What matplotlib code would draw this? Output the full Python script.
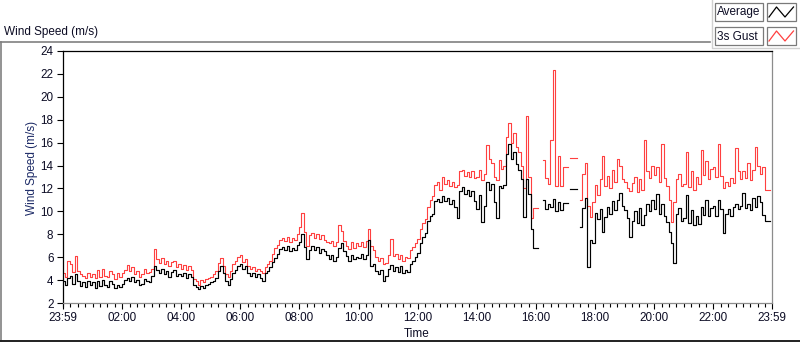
import numpy as np
import matplotlib
matplotlib.use("Agg")
import matplotlib.pyplot as plt
from matplotlib.lines import Line2D
from matplotlib.patches import Rectangle

nan = np.nan

# ---- data: 5-minute samples starting at 23:59 (hours since start) ----
sample_minutes = 5
avg_speed = [
    3.9, 3.6, 4.2, 4.4, 3.7, 4.5, 3.9, 3.5, 3.8, 3.4, 3.9, 3.6,
    3.8, 3.3, 3.9, 3.5, 4.0, 3.6, 3.4, 3.9, 3.7, 3.3, 3.6, 3.4,
    3.7, 4.0, 4.2, 3.9, 4.3, 3.8, 4.0, 3.6, 3.7, 4.1, 3.9, 3.8,
    4.4, 5.2, 4.9, 4.6, 5.0, 4.5, 4.8, 4.3, 4.7, 4.9, 4.4, 4.5,
    4.4, 4.6, 4.2, 4.5, 4.3, 3.6, 3.4, 3.2, 3.5, 3.3, 3.6, 3.7,
    3.8, 3.9, 4.2, 4.8, 5.2, 4.6, 3.9, 3.6, 4.1, 4.6, 4.9, 5.2,
    5.4, 5.0, 5.2, 4.6, 4.4, 4.6, 4.3, 4.5, 4.2, 3.9, 4.6, 4.8,
    5.1, 5.6, 5.9, 6.3, 6.7, 6.9, 6.6, 7.0, 6.5, 6.8, 6.6, 7.1,
    7.3, 8.0, 6.9, 5.8, 6.6, 7.0, 6.6, 6.9, 6.4, 6.7, 6.5, 6.2,
    5.8, 6.2, 5.7, 6.0, 6.8, 7.2, 6.5, 6.1, 5.7, 6.2, 5.8, 6.0,
    5.9, 6.3, 5.8, 6.2, 7.5, 5.2, 5.4, 4.8, 4.5, 4.9, 3.9, 4.4,
    5.0, 5.3, 4.8, 5.1, 4.7, 5.2, 4.6, 4.9, 4.7, 5.4, 5.7, 6.0,
    6.4, 7.2, 7.8, 8.1, 9.2, 9.6, 9.8, 10.9, 11.1, 10.8, 11.3, 10.9,
    11.2, 10.6, 11.0, 10.4, 9.4, 11.8, 12.1, 11.5, 11.9, 11.3, 11.8, 10.9,
    10.2, 11.4, 9.1, 10.5, 12.6, 11.9, 12.4, 10.8, 9.4, 12.2, 12.0, 12.3,
    15.0, 15.9, 14.6, 15.2, 14.1, 13.6, 12.8, 9.5, 12.8, 11.5, 8.5, 6.8,
    6.8, nan, nan, 11.0, 10.2, 10.6, 10.4, 11.1, 10.0, 10.8, 10.1, 10.7,
    10.7, nan, 11.95, 11.95, 11.95, nan, 8.6, 10.3, 11.2, 5.1, 7.5, 7.2,
    9.9, 9.3, 10.2, 8.2, 9.5, 10.4, 9.8, 10.9, 10.1, 11.0, 11.6, 10.5,
    10.1, 9.4, 7.8, 9.2, 10.0, 9.0, 10.3, 8.8, 9.7, 10.6, 10.0, 11.0,
    10.2, 11.5, 9.8, 10.6, 9.6, 9.1, 8.2, 7.2, 5.5, 9.8, 10.3, 9.2,
    9.4, 11.4, 9.0, 10.1, 8.8, 9.6, 8.9, 10.4, 9.7, 11.0, 9.6, 10.3,
    10.5, 9.6, 11.0, 10.2, 8.1, 9.8, 10.2, 9.6, 10.4, 10.6, 10.2, 10.5,
    11.6, 10.3, 10.6, 10.1, 11.2, 10.4, 11.3, 10.8, 9.7, 9.15, 9.15, 9.15,
]
gust_speed = [
    4.6, 4.3, 5.7, 5.4, 4.7, 6.1, 4.8, 4.5, 4.4, 4.2, 4.6, 4.3,
    4.5, 4.2, 4.9, 4.3, 5.0, 4.4, 4.3, 4.8, 4.5, 4.1, 4.6, 4.3,
    4.6, 4.9, 5.3, 4.8, 5.1, 4.5, 4.8, 4.3, 4.5, 5.0, 4.6, 4.7,
    5.0, 6.7, 5.8, 5.5, 5.9, 5.4, 5.7, 5.2, 5.6, 5.7, 5.1, 5.4,
    5.0, 5.3, 4.9, 5.2, 4.9, 4.1, 3.9, 3.6, 4.0, 3.8, 4.1, 4.2,
    4.3, 4.5, 4.8, 5.5, 5.9, 5.2, 4.5, 4.3, 4.8, 5.4, 5.7, 6.0,
    6.2, 5.6, 5.8, 5.2, 5.0, 5.1, 4.8, 5.0, 4.8, 4.6, 5.1, 5.4,
    5.7, 6.3, 6.8, 7.1, 7.5, 7.7, 7.4, 7.8, 7.3, 7.7, 7.5, 8.0,
    8.6, 9.9, 8.2, 7.0, 7.9, 8.1, 7.7, 8.0, 7.6, 7.9, 7.5, 7.3,
    7.2, 7.4, 7.0, 7.3, 8.8, 8.3, 7.4, 7.0, 6.7, 7.3, 6.8, 7.2,
    7.0, 7.3, 6.9, 7.4, 8.5, 7.0, 6.6, 6.0, 5.7, 5.9, 5.4, 5.5,
    6.2, 7.6, 6.1, 6.3, 5.8, 6.2, 5.7, 6.0, 5.9, 6.6, 6.9, 7.2,
    7.6, 8.5, 9.0, 9.3, 10.4, 11.0, 11.3, 12.3, 12.6, 11.9, 13.0, 12.4,
    12.7, 12.2, 12.6, 12.1, 12.3, 13.5, 13.6, 13.1, 13.4, 13.0, 13.5, 12.9,
    13.0, 13.6, 12.7, 13.3, 15.8, 14.6, 14.2, 13.0, 12.7, 14.5, 13.7, 14.0,
    16.5, 17.7, 16.0, 16.8, 15.6, 15.2, 14.0, 12.0, 18.3, 13.0, 9.4, 10.3,
    10.3, nan, nan, 14.5, 12.9, 12.4, 16.2, 22.3, 12.2, 14.8, 12.2, 13.9,
    13.9, nan, 14.7, 14.7, 14.7, nan, 11.0, 13.3, 14.2, 10.5, 9.5, 10.8,
    12.3, 11.4, 12.8, 14.8, 12.2, 13.1, 12.0, 13.6, 12.6, 14.6, 14.0, 12.8,
    12.6, 12.0, 11.8, 12.5, 13.0, 11.7, 12.8, 11.9, 16.2, 13.5, 12.9, 14.0,
    13.2, 13.9, 12.6, 15.9, 12.9, 12.2, 11.0, 9.1, 10.8, 12.8, 13.3, 12.2,
    12.4, 15.2, 12.1, 13.5, 11.9, 13.0, 12.4, 15.4, 13.2, 14.4, 12.8, 13.7,
    13.9, 13.0, 15.9, 13.1, 12.0, 12.6, 12.2, 12.9, 12.5, 15.5, 13.5, 12.8,
    13.5, 12.9, 14.2, 12.7, 13.6, 15.6, 14.0, 13.3, 13.9, 11.9, 11.9, 11.9,
]
series_names = ["Average", "3s Gust"]
xtick_labels = ["23:59", "02:00", "04:00", "06:00", "08:00", "10:00", "12:00",
                "14:00", "16:00", "18:00", "20:00", "22:00", "23:59"]
yticks = [2, 4, 6, 8, 10, 12, 14, 16, 18, 20, 22, 24]
title = "Wind Speed (m/s)"
ylabel = "Wind Speed (m/s)"
xlabel = "Time"

# ---- figure ----
W, H = 800, 342
plt.rcParams["font.family"] = ["Liberation Sans", "DejaVu Sans"]
fig = plt.figure(figsize=(W / 100, H / 100), dpi=100)
fig.patch.set_facecolor("white")

def fx(x):
    return x / W

def fy(y):
    return 1 - y / H

L, R, T, B = 62.5, 772, 51, 303
ax = fig.add_axes([fx(L), fy(B), (R - L) / W, (B - T) / H])

t = np.arange(len(avg_speed)) * sample_minutes / 60.0
gust = np.array(gust_speed, dtype=float)
avg = np.array(avg_speed, dtype=float)
ax.plot(t, gust, color="#ff4040", lw=0.8, drawstyle="steps-post", zorder=2)
ax.plot(t, avg, color="#000000", lw=0.85, drawstyle="steps-post", zorder=3)

ax.set_xlim(0, 24)
ax.set_ylim(2, 24)

start_min = 23 * 60 + 59
def to_hours(lbl, last):
    h, m = map(int, lbl.split(":"))
    d = (h * 60 + m - start_min) % 1440
    if last and d == 0:
        d = 1440
    return d / 60.0

xt = [to_hours(l, i == len(xtick_labels) - 1) for i, l in enumerate(xtick_labels)]
ax.set_xticks(xt)
ax.set_xticklabels(xtick_labels)
minor = [(1 + 15 * k) / 60.0 for k in range(96) if 0 < (1 + 15 * k) / 60.0 < 24]
ax.set_xticks(minor, minor=True)
ax.set_yticks(yticks)
ax.set_yticklabels([str(v) for v in yticks])

txtc = "#0c0c24"
ax.tick_params(axis="both", which="major", direction="out", length=4.5, width=0.8,
               colors="black", labelcolor=txtc, labelsize=8.4, pad=2)
ax.tick_params(axis="x", which="minor", direction="out", length=3, width=0.8, colors="black")
for side, col in [("top", "black"), ("left", "black"), ("right", "#8c8c8c"), ("bottom", "#8c8c8c")]:
    ax.spines[side].set_color(col)
    ax.spines[side].set_linewidth(0.9)

fig.text(fx(4), fy(32), title, ha="left", va="center", fontsize=8.5, color=txtc)
fig.text(fx(32), fy(168), ylabel, ha="center", va="center", rotation=90,
         fontsize=8.5, color="#1c2a66")
fig.text(fx(417), fy(334), xlabel, ha="center", va="center", fontsize=8.5, color=txtc)

# panel frame
fig.add_artist(Line2D([fx(0), fx(710)], [fy(42), fy(42)], color="#808080", lw=1.2))
fig.add_artist(Line2D([fx(0.8), fx(0.8)], [fy(42), fy(341)], color="#808080", lw=1.2))
fig.add_artist(Line2D([fx(0), fx(800)], [fy(341), fy(341)], color="#202020", lw=1.4))
fig.add_artist(Line2D([fx(712), fx(712), fx(800)], [fy(0), fy(48), fy(48)],
                      color="#d0d0d0", lw=1.0))

# legend
colors = ["#000000", "#ff4040"]
for i, (name, c) in enumerate(zip(series_names, colors)):
    y0 = 3 + 24 * i
    fig.add_artist(Rectangle((fx(715), fy(y0 + 18)), 48 / W, 18 / H, transform=fig.transFigure,
                             facecolor="white", edgecolor="#7a7a7a", lw=0.9))
    fig.add_artist(Rectangle((fx(767), fy(y0 + 18)), 29 / W, 18 / H, transform=fig.transFigure,
                             facecolor="white", edgecolor="#7a7a7a", lw=0.9))
    fig.text(fx(717), fy(y0 + 9.5), name, ha="left", va="center", fontsize=8.5, color=txtc)
    fig.add_artist(Line2D([fx(769), fx(776.5), fx(785), fx(793.5)],
                          [fy(y0 + 14), fy(y0 + 4), fy(y0 + 14), fy(y0 + 4)],
                          color=c, lw=0.9))

fig.savefig("out.png", dpi=100, facecolor="white")
